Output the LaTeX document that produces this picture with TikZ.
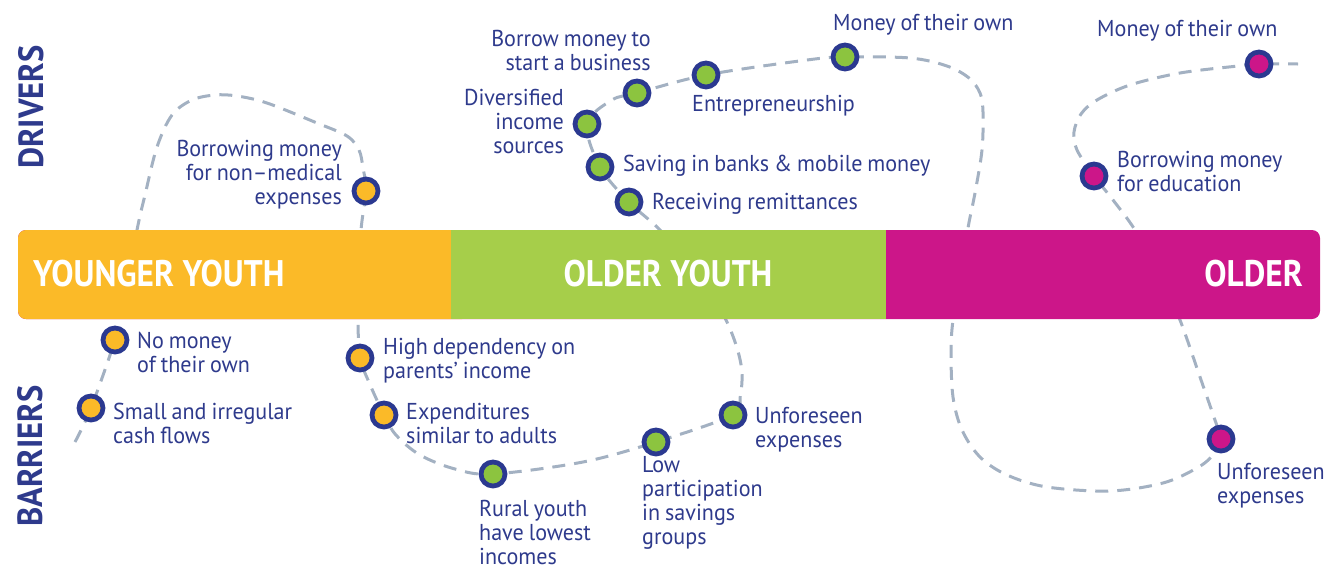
\documentclass[tikz,border=0pt]{standalone}
\usepackage{fontspec}
\setmainfont[FakeStretch=0.96,WordSpace=0.85]{PT Sans}
\newfontfamily\barfont[FakeStretch=0.90]{PT Sans}
\newfontfamily\sidefont[FakeStretch=0.93]{PT Sans}
\definecolor{navy}{HTML}{2E3A8C}
\definecolor{ringc}{HTML}{2B3990}
\definecolor{yel}{HTML}{FBBA28}
\definecolor{grn}{HTML}{A6CE4A}
\definecolor{grnd}{HTML}{8CC43F}
\definecolor{mag}{HTML}{CC1689}
\definecolor{dashc}{HTML}{A3B1C2}
\pgfdeclarelayer{bg}
\pgfsetlayers{bg,main}
\tikzset{
  dot/.style={circle, draw=ringc, line width=4.8pt, minimum size=24pt, inner sep=0pt},
  lbl/.style={text=navy, font=\fontsize{23}{24}\selectfont, inner sep=0pt},
  lblL/.style={lbl, anchor=west, align=left},
  lblR/.style={lbl, anchor=east, align=right},
  barlbl/.style={text=white, font=\barfont\bfseries\fontsize{37}{40}\selectfont, inner sep=0pt},
  sidelbl/.style={text=navy, font=\sidefont\bfseries\fontsize{35}{38}\selectfont, inner sep=0pt, rotate=90},
  route/.style={draw=dashc, line width=3pt, dash pattern=on 13pt off 9pt}
}
\begin{document}
\begin{tikzpicture}[x=1pt,y=-1pt]
\useasboundingbox (0,0) rectangle (1326,568);
% bar
\fill[mag, rounded corners=8pt] (18,230) rectangle (1320,319);
\fill[yel, rounded corners=8pt] (18,230) rectangle (470,319);
\fill[grn] (451,230) rectangle (886,319);
\node[barlbl, anchor=west] (yy) at (33,274) {YOUNGER YOUTH};
\node[barlbl] (oy) at (668,274) {OLDER YOUTH};
\node[barlbl, anchor=east] (ol) at (1303,274) {OLDER};
% side labels
\node[sidelbl] (drv) at (31,107) {DRIVERS};
\node[sidelbl] (bar) at (30,456) {BARRIERS};
% driver dots
\node[dot, fill=yel] (d1) at (366,191) {};
\node[dot, fill=grnd] (remit) at (629,202) {};
\node[dot, fill=grnd] (saving) at (600,167) {};
\node[dot, fill=grnd] (div) at (587,124) {};
\node[dot, fill=grnd] (borrow) at (637,93) {};
\node[dot, fill=grnd] (entre) at (706,75) {};
\node[dot, fill=grnd] (money) at (845,57) {};
\node[dot, fill=mag] (m1) at (1259,64) {};
\node[dot, fill=mag] (m2) at (1094,176) {};
% barrier dots
\node[dot, fill=yel] (s1) at (91,408) {};
\node[dot, fill=yel] (s2) at (115,340) {};
\node[dot, fill=yel] (b1) at (360,358) {};
\node[dot, fill=yel] (b2) at (384,415) {};
\node[dot, fill=grnd] (b3) at (493,474) {};
\node[dot, fill=grnd] (b4) at (656,442) {};
\node[dot, fill=grnd] (b5) at (733,415) {};
\node[dot, fill=mag] (m3) at (1221,439) {};
% labels
\node[lblR] (td1) at (342,175) {Borrowing money\\for non–medical\\expenses};
\node[lblR] (tdiv) at (564,121) {Diversified\\income\\sources};
\node[lblR] (tborrow) at (651,50) {Borrow money to\\start a business};
\node[lblL] (tentre) at (692,106) {Entrepreneurship};
\node[lblL] (tmoney) at (833,25) {Money of their own};
\node[lblL] (tsaving) at (623,166) {Saving in banks \& mobile money};
\node[lblL] (tremit) at (652,204) {Receiving remittances};
\node[lblL] (tm1) at (1097,31) {Money of their own};
\node[lblL] (tm2) at (1117,171) {Borrowing money\\for education};
\node[lblL] (ts2) at (137,352) {No money\\of their own};
\node[lblL] (ts1) at (113,423) {Small and irregular\\cash flows};
\node[lblL] (tb1) at (383,361) {High dependency on\\parents’ income};
\node[lblL] (tb2) at (406,423) {Expenditures\\similar to adults};
\node[lblL] (tb3) at (479,532) {Rural youth\\have lowest\\incomes};
\node[lblL] (tb4) at (642,503) {Low\\participation\\in savings\\groups};
\node[lblL] (tb5) at (755,430) {Unforeseen\\expenses};
\node[lblL] (tm3) at (1217,486) {Unforeseen\\expenses};
% route
\coordinate (start) at (75,442);
\coordinate (finish) at (1298,64);
\begin{pgfonlayer}{bg}
\draw[route] plot[smooth, tension=0.55] coordinates {
 (start) (s1.center) (s2.center) (123,305) (137,230) (145,195) (157,147) (172,115) (192,100) (215,95) (237,96)
 (267,103) (317,123) (347,136) (359,150) (363,168) (d1.center) (361,230) (358,290) (358,325)
 (b1.center) (368,380) (b2.center) (396,435) (420,455) (455,469) (b3.center) (583,462) (b4.center)
 (b5.center) (740,398) (742,373) (737,348) (725,318) (700,275) (660,230) (remit.center) (saving.center)
 (div.center) (612,100) (borrow.center) (entre.center) (807,60) (money.center) (910,58) (947,66) (969,78)
 (980,93) (983,112) (982,150) (975,193) (968,228) (960,280) (953,320) (951,352) (953,397) (962,430)
 (980,457) (1007,475) (1047,487) (1110,491) (1163,483) (1197,468) (1213,455) (m3.center) (1216,423)
 (1200,377) (1180,320) (1160,275) (1135,230) (1113,200) (m2.center) (1077,150) (1074,132) (1081,114)
 (1097,100) (1130,85) (1180,73) (1238,66) (m1.center) (finish)};
\end{pgfonlayer}
\end{tikzpicture}
\end{document}
